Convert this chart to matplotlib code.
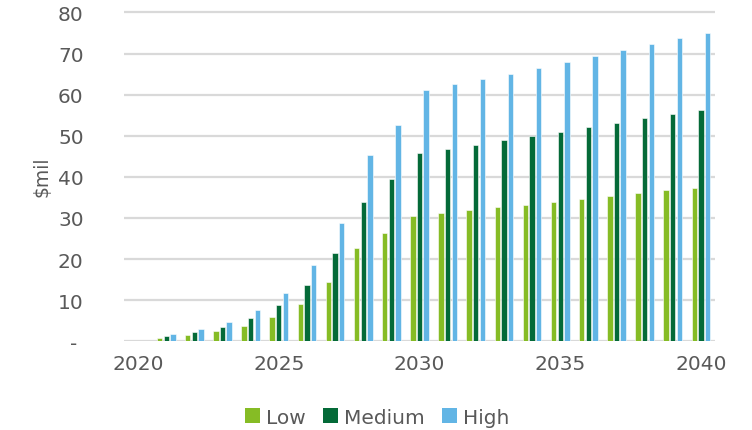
import matplotlib
matplotlib.use("Agg")
import matplotlib.pyplot as plt
import numpy as np
from matplotlib.patches import Patch

years = list(range(2020, 2041))
low = [0, 0.8, 1.5, 2.4, 3.7, 5.9, 9.1, 14.5, 22.6, 26.3, 30.6, 31.2, 31.9, 32.6, 33.2,
       34.0, 34.6, 35.4, 36.1, 36.8, 37.4]
medium = [0, 1.3, 2.2, 3.5, 5.6, 8.8, 13.8, 21.6, 34.0, 39.5, 45.9, 46.9, 47.8, 48.9, 49.9,
          51.0, 52.1, 53.1, 54.3, 55.4, 56.2]
high = [0, 1.7, 3.0, 4.8, 7.5, 11.8, 18.5, 28.8, 45.3, 52.6, 61.1, 62.5, 63.8, 65.0, 66.4,
        67.9, 69.3, 70.8, 72.3, 73.8, 74.9]
series_names = ["Low", "Medium", "High"]
colors = ["#86bc25", "#046a38", "#62b5e5"]
y_ticks = [0, 10, 20, 30, 40, 50, 60, 70, 80]
y_ticklabels = ["- ", "10", "20", "30", "40", "50", "60", "70", "80"]
x_tick_years = [2020, 2025, 2030, 2035, 2040]

text_color = "#595959"
fig = plt.figure(figsize=(7.52, 4.31), dpi=100)
ax = fig.add_axes([124 / 752, 88.7 / 431, (715 - 124) / 752, 330.9 / 431])

x = np.arange(len(years))
w = 0.19
step = 0.235
for i, (vals, c) in enumerate(zip([low, medium, high], colors)):
    ax.bar(x + (i - 1) * step, vals, width=w, color=c, edgecolor="white",
           linewidth=0.4, zorder=3)

ax.set_xlim(-0.5, len(years) - 0.5)
ax.set_ylim(0, 80.5)
ax.set_yticks(y_ticks)
ax.set_yticklabels(y_ticklabels)
ax.set_xticks([years.index(y) for y in x_tick_years])
ax.set_xticklabels([str(y) for y in x_tick_years])
ax.grid(axis="y", color="#d9d9d9", linewidth=1.6, zorder=0)
ax.set_axisbelow(True)
for s in ax.spines.values():
    s.set_visible(False)
ax.tick_params(axis="both", length=0, labelsize=14.5, labelcolor=text_color)
ax.tick_params(axis="y", pad=29)
ax.tick_params(axis="x", pad=9)
ax.set_ylabel("$mil", fontsize=13.5, color=text_color)
ax.yaxis.set_label_coords(-0.122, 0.5)

handles = [Patch(facecolor=c, edgecolor="none") for c in colors]
fig.legend(handles, series_names, loc="center", bbox_to_anchor=(0.502, 0.03), ncol=3,
           frameon=False, fontsize=14.5, handlelength=0.75, handleheight=0.75,
           handletextpad=0.3, columnspacing=0.85, labelcolor=text_color,
           borderpad=0.1)

fig.savefig("out.png", dpi=100)
